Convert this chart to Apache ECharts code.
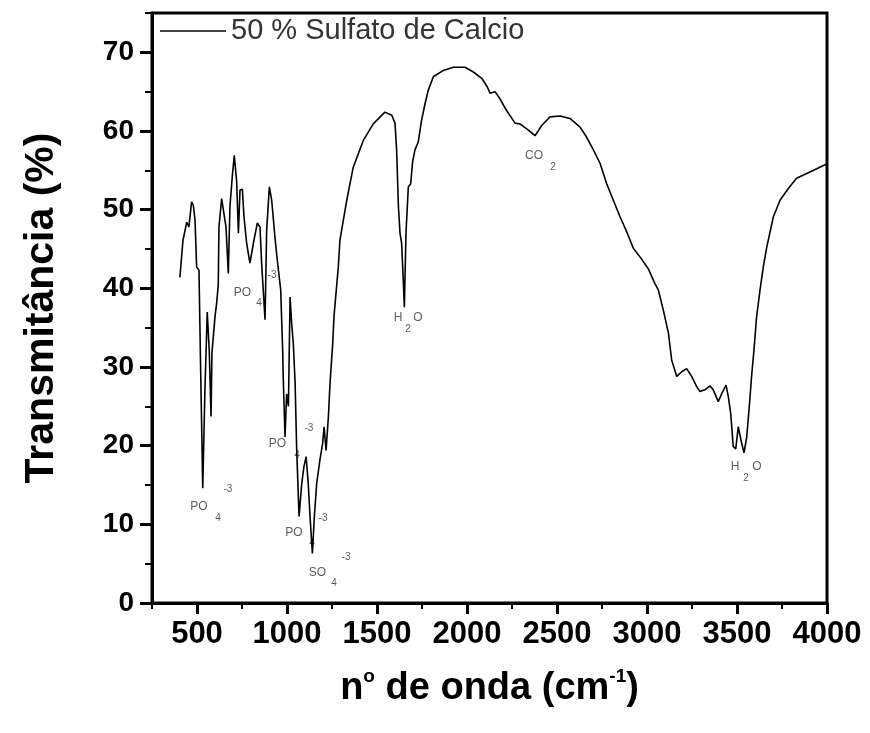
<!DOCTYPE html>
<html>
<head>
<meta charset="utf-8">
<script src="https://cdn.jsdelivr.net/npm/echarts@6/dist/echarts.min.js"></script>
<style>
  html, body { margin: 0; padding: 0; background: #fff; }
  #chart { width: 870px; height: 733px; }
</style>
</head>
<body>
<div id="chart"></div>
<script>
// espectro FTIR, 50 % sulfato de calcio
var waveNumber = [405, 422, 443, 455, 470, 480, 489, 498, 511, 520, 532, 544, 557, 568, 578, 583, 600, 609, 618,
  622, 637, 645, 661, 674, 683, 696, 707, 720, 730, 739, 752, 761, 776, 794, 813, 835, 850, 859, 878, 887,
  902, 915, 933, 946, 965, 976, 979, 989, 998, 1008, 1017, 1026, 1035, 1045, 1054, 1067, 1082, 1094, 1106,
  1118, 1128, 1141, 1152, 1165, 1183, 1198, 1206, 1217, 1230, 1239, 1254, 1261, 1285, 1294, 1332, 1368,
  1424, 1479, 1544, 1582, 1600, 1609, 1619, 1628, 1637, 1646, 1652, 1661, 1674, 1687, 1698, 1711, 1729,
  1748, 1767, 1785, 1813, 1869, 1924, 1989, 2035, 2082, 2113, 2128, 2156, 2183, 2220, 2267, 2294, 2341,
  2378, 2415, 2461, 2517, 2572, 2628, 2665, 2702, 2739, 2776, 2813, 2850, 2887, 2924, 2961, 3007, 3044,
  3063, 3081, 3091, 3119, 3137, 3165, 3193, 3220, 3248, 3276, 3294, 3322, 3350, 3368, 3396, 3415, 3439,
  3452, 3465, 3479, 3493, 3507, 3517, 3526, 3539, 3554, 3568, 3581, 3594, 3609, 3628, 3646, 3665, 3702,
  3739, 3785, 3831, 3887, 3943, 3989, 4000];
var transmit = [41.4, 46.1, 48.4, 47.8, 51.0, 50.5, 48.7, 42.7, 42.3, 30.0, 14.6, 27.1, 37.0, 32.1, 23.7, 31.8, 36.4, 38.1, 40.4,
  47.8, 51.4, 51.2, 47.8, 41.9, 50.4, 54.2, 56.9, 53.7, 47.0, 52.5, 52.6, 49.1, 45.7, 43.2, 45.7, 48.3, 47.8, 43.2, 36.0, 47.4,
  52.9, 51.2, 46.5, 43.6, 39.8, 32.1, 28.8, 21.1, 26.6, 25.0, 38.9, 35.5, 33.0, 28.0, 19.4, 11.0, 15.2, 17.3, 18.6,
  15.2, 11.0, 6.3, 11.0, 15.2, 18.2, 20.3, 22.4, 19.4, 23.7, 27.9, 33.0, 36.4, 42.7, 46.1, 51.2, 55.4,
  58.8, 60.9, 62.4, 62.0, 61.0, 57.6, 50.4, 47.0, 45.7, 41.0, 37.6, 47.0, 52.9, 53.3, 56.1, 57.6, 58.6,
  61.4, 63.5, 65.2, 66.9, 67.7, 68.1, 68.1, 67.5, 66.7, 65.6, 64.8, 65.0, 64.1, 62.6, 61.0, 60.9, 60.1,
  59.4, 60.7, 61.8, 61.9, 61.6, 60.5, 59.2, 57.6, 55.9, 53.3, 51.2, 49.1, 47.2, 45.1, 44.0, 42.5, 40.6,
  39.8, 38.1, 37.2, 34.3, 30.9, 28.8, 29.4, 29.8, 28.8, 27.5, 26.9, 27.1, 27.6, 27.1, 25.6, 26.6, 27.7,
  26.2, 24.1, 19.9, 19.6, 22.4, 22.2, 20.3, 19.1, 21.1, 24.9, 28.8, 32.1, 36.4, 39.8, 42.7, 45.2, 49.1,
  51.2, 52.7, 54.0, 54.6, 55.2, 55.7, 55.8];

var xMajorTicks = [500, 1000, 1500, 2000, 2500, 3000, 3500, 4000];
var yMajorTicks = [0, 10, 20, 30, 40, 50, 60, 70];

// etiquetas das bandas (texto principal e indices)
var bandTxt = ['PO', 'PO', 'PO', 'PO', 'SO', 'H', 'O', 'CO', 'H', 'O'];
var bandX = [511, 753, 947, 1039, 1169, 1617, 1728, 2372, 3489, 3611];
var bandY = [12.2, 39.5, 20.3, 8.9, 3.9, 36.3, 36.3, 56.9, 17.3, 17.3];
var idxTxt = ['4', '-3', '4', '-3', '4', '-3', '4', '-3', '4', '-3', '2', '2', '2'];
var idxX = [617, 672, 844, 917, 1056, 1122, 1139, 1200, 1261, 1328, 1672, 2478, 3550];
var idxY = [10.8, 14.5, 38.1, 41.7, 18.8, 22.2, 7.6, 10.8, 2.5, 5.8, 34.8, 55.4, 15.9];

var FONT = "'Liberation Sans', Arial, sans-serif";

var lineData = [];
for (var i = 0; i < waveNumber.length; i++) lineData.push([waveNumber[i], transmit[i]]);
var bandData = [];
for (var i = 0; i < bandTxt.length; i++) bandData.push({name: bandTxt[i], value: [bandX[i], bandY[i]]});
var idxData = [];
for (var i = 0; i < idxTxt.length; i++) idxData.push({name: idxTxt[i], value: [idxX[i], idxY[i]]});

var myChart = echarts.init(document.getElementById('chart'), null, {renderer: 'canvas'});

function annoSeries(data, size) {
    return {
        type: 'scatter',
        data: data,
        symbolSize: 1,
        itemStyle: {color: 'rgba(0,0,0,0)'},
        silent: true,
        label: {
            show: true,
            position: 'inside',
            formatter: '{b}',
            color: '#333',
            fontSize: size,
            fontFamily: FONT
        }
    };
}

var option = {
    animation: false,
    backgroundColor: '#fff',
    grid: {
        left: 152, right: 43, top: 13, bottom: 130,
        show: true,
        borderColor: '#000',
        borderWidth: 3
    },
    legend: {
        data: ['50 % Sulfato de Calcio'],
        left: 160,
        top: 16,
        padding: 0,
        icon: 'rect',
        itemWidth: 66,
        itemHeight: 1.5,
        textStyle: {fontSize: 29, color: '#333', fontFamily: FONT, lineHeight: 30}
    },
    xAxis: [{
        type: 'value',
        min: 250, max: 4000, interval: 250,
        name: 'n{sup|o} de onda (cm{sup|-1})',
        nameLocation: 'middle',
        nameGap: 64,
        nameTextStyle: {
            fontSize: 38, fontWeight: 'bold', color: '#000', fontFamily: FONT, lineHeight: 44,
            rich: {sup: {fontSize: 19, fontWeight: 'bold', color: '#000', fontFamily: FONT, verticalAlign: 'top', lineHeight: 19}}
        },
        axisLine: {onZero: false, lineStyle: {color: '#000', width: 3}},
        axisTick: {length: 11, customValues: xMajorTicks, lineStyle: {color: '#000', width: 3}},
        axisLabel: {
            customValues: xMajorTicks, margin: 16, fontSize: 31, fontWeight: 'bold', color: '#000', fontFamily: FONT,
            formatter: function (v) { return String(v); }
        },
        splitLine: {show: false}
    }, {
        type: 'value',
        position: 'bottom',
        min: 250, max: 4000, interval: 250,
        axisLine: {show: false},
        axisTick: {length: 6, lineStyle: {color: '#000', width: 2}},
        axisLabel: {show: false},
        splitLine: {show: false}
    }],
    yAxis: [{
        type: 'value',
        min: 0, max: 75, interval: 5,
        name: 'Transmitância (%)',
        nameLocation: 'middle',
        nameGap: 90,
        nameTextStyle: {fontSize: 41, fontWeight: 'bold', color: '#000', fontFamily: FONT},
        axisLine: {onZero: false, lineStyle: {color: '#000', width: 3}},
        axisTick: {length: 12, customValues: yMajorTicks, lineStyle: {color: '#000', width: 3}},
        axisLabel: {customValues: yMajorTicks, margin: 18, fontSize: 28, fontWeight: 'bold', color: '#000', fontFamily: FONT},
        splitLine: {show: false}
    }, {
        type: 'value',
        position: 'left',
        min: 0, max: 75, interval: 5,
        axisLine: {show: false},
        axisTick: {length: 7, lineStyle: {color: '#000', width: 2}},
        axisLabel: {show: false},
        splitLine: {show: false}
    }],
    series: [{
        name: '50 % Sulfato de Calcio',
        type: 'line',
        data: lineData,
        showSymbol: false,
        symbol: 'none',
        lineStyle: {color: '#000', width: 1.6},
        itemStyle: {color: '#000'}
    },
    annoSeries(bandData, 12),
    annoSeries(idxData, 10)]
};
myChart.setOption(option);
</script>
</body>
</html>
